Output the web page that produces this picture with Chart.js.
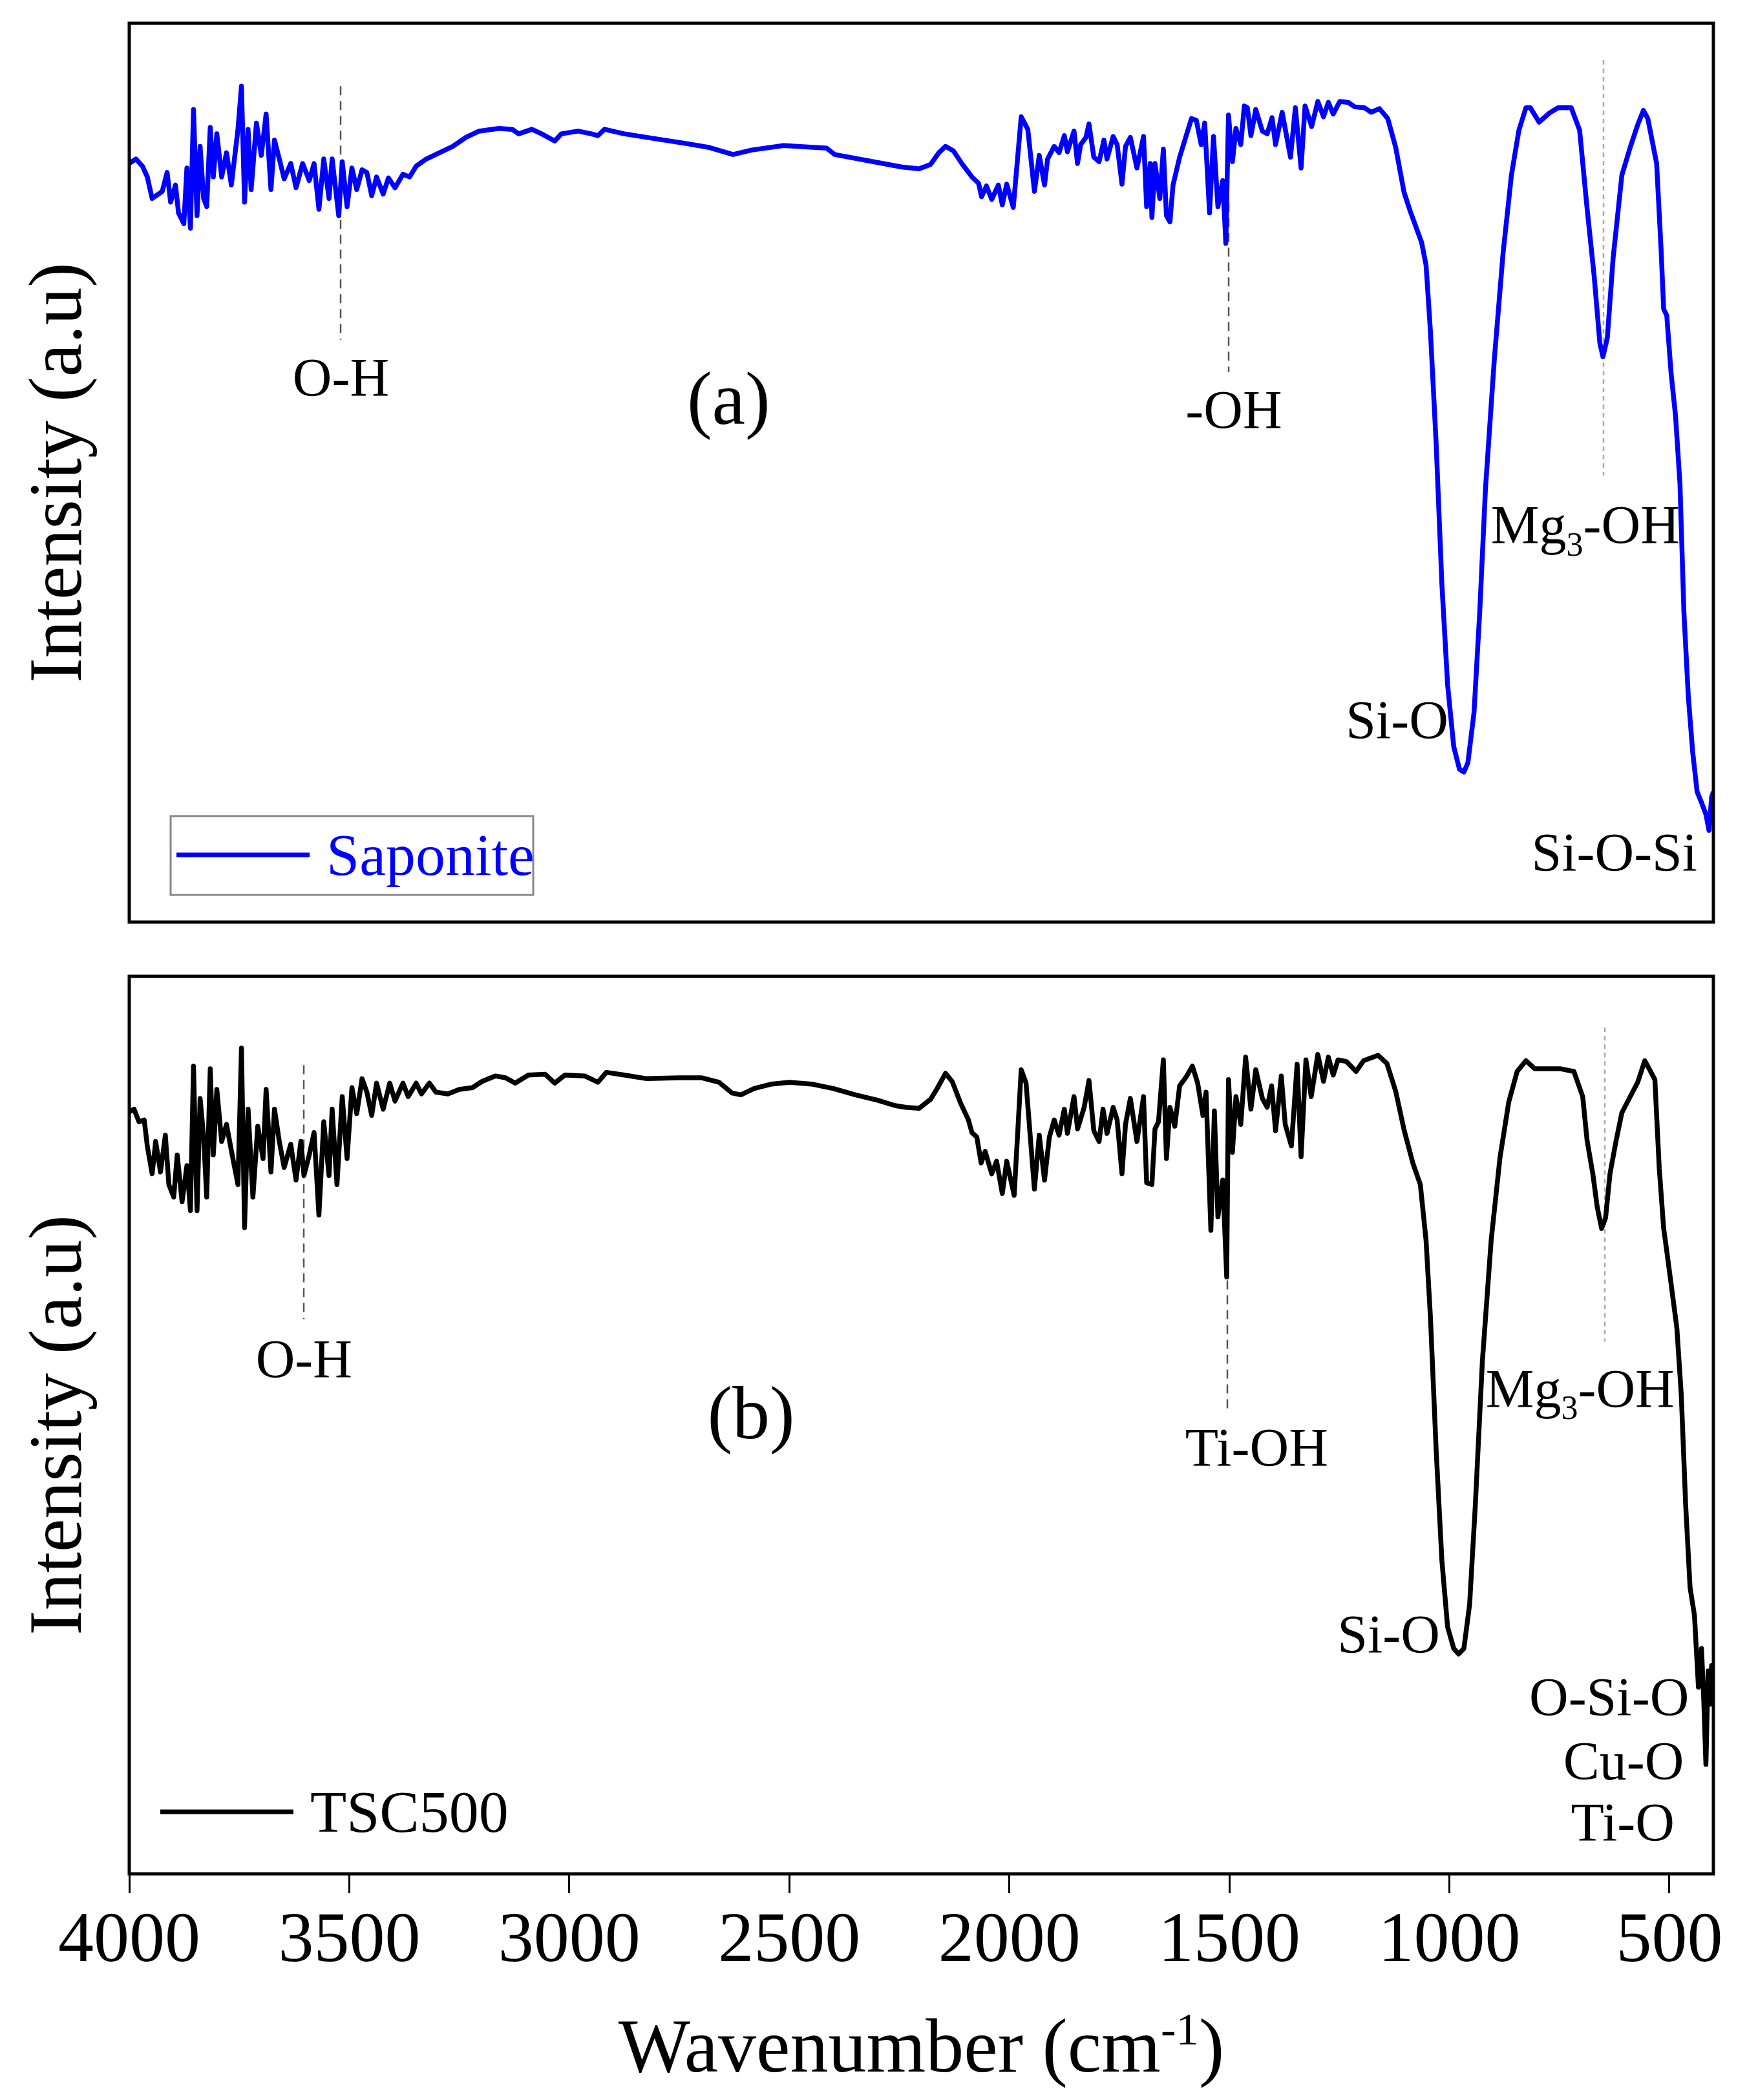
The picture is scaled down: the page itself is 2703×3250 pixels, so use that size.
<!DOCTYPE html>
<html>
<head>
<meta charset="utf-8">
<script src="https://cdn.jsdelivr.net/npm/chart.js@4.4.1/dist/chart.umd.min.js"></script>
<style>
  body { margin: 0; background: #fff; }
  #wrap { position: relative; width: 2703px; height: 3250px; background: #fff; }
  canvas { position: absolute; left: 0; }
  #chartA { top: 0; }
  #chartB { top: 1470px; }
</style>
</head>
<body>
<div id="wrap">
  <canvas id="chartA" width="2703" height="1440"></canvas>
  <canvas id="chartB" width="2703" height="1780"></canvas>
</div>
<script>
const FONT = "'Liberation Serif', 'Times New Roman', serif";

// wavenumber (cm-1) / intensity (a.u.)
const wnSap = [
  4000, 3985, 3970, 3959, 3948, 3925, 3914, 3906, 3895, 3888,
  3876, 3869, 3861, 3854, 3846, 3839, 3831, 3824, 3816, 3809,
  3801, 3790, 3779, 3768, 3753, 3745, 3738, 3730, 3723, 3711,
  3700, 3689, 3678, 3670, 3659, 3648, 3633, 3621, 3606, 3591,
  3580, 3569, 3558, 3546, 3539, 3524, 3516, 3505, 3494, 3483,
  3471, 3460, 3449, 3438, 3423, 3411, 3396, 3378, 3363, 3348,
  3325, 3295, 3265, 3235, 3205, 3160, 3130, 3115, 3085, 3063,
  3033, 3018, 2980, 2950, 2935, 2920, 2875, 2824, 2732, 2684,
  2628, 2585, 2513, 2415, 2397, 2244, 2205, 2179, 2160, 2145,
  2127, 2108, 2085, 2070, 2063, 2052, 2040, 2025, 2016, 2006,
  1991, 1973, 1958, 1943, 1932, 1920, 1913, 1898, 1887, 1875,
  1868, 1853, 1845, 1838, 1826, 1819, 1808, 1796, 1785, 1778,
  1764, 1755, 1744, 1736, 1725, 1710, 1695, 1688, 1680, 1676,
  1669, 1658, 1650, 1643, 1635, 1628, 1613, 1598, 1586, 1575,
  1564, 1556, 1545, 1536, 1526, 1515, 1508, 1502, 1493, 1485,
  1474, 1466, 1459, 1451, 1440, 1425, 1414, 1403, 1395, 1380,
  1361, 1350, 1337, 1328, 1313, 1299, 1286, 1275, 1264, 1249,
  1230, 1215, 1193, 1178, 1159, 1140, 1122, 1103, 1089, 1063,
  1053, 1043, 1030, 1017, 1004, 990, 977, 967, 958, 944,
  931, 918, 898, 878, 859, 842, 826, 816, 796, 773,
  753, 723, 704, 687, 671, 658, 651, 641, 628, 608,
  589, 572, 559, 549, 539, 529, 519, 513, 506, 496,
  486, 476, 467, 457, 447, 437, 427, 417, 410, 404,
  400
];
const intSap = [
  84.4, 84.9, 84.1, 82.9, 80.5, 81.3, 83.4, 80.1, 82.0, 78.9,
  77.7, 83.9, 77.2, 90.4, 78.6, 86.3, 80.5, 79.6, 88.4, 82.9,
  87.7, 82.9, 85.6, 82.0, 88.2, 93.0, 80.1, 88.2, 81.5, 88.9,
  85.3, 89.9, 81.5, 87.0, 84.9, 82.7, 84.4, 81.7, 84.4, 82.5,
  84.4, 79.3, 84.9, 80.5, 84.9, 78.6, 84.6, 79.6, 83.9, 81.5,
  83.7, 83.4, 80.8, 82.9, 81.0, 82.8, 81.7, 83.2, 82.9, 84.1,
  84.9, 85.6, 86.3, 87.3, 88.0, 88.3, 88.2, 87.7, 88.2, 87.7,
  86.9, 87.7, 88.0, 87.7, 87.5, 88.2, 87.7, 87.3, 86.6, 86.2,
  85.4, 85.9, 86.4, 86.1, 85.4, 84.0, 83.8, 84.3, 85.6, 86.3,
  85.8, 84.4, 82.9, 82.2, 80.7, 81.9, 80.4, 82.0, 79.8, 82.1,
  79.5, 89.6, 88.2, 81.3, 85.3, 82.0, 84.9, 86.3, 85.6, 87.5,
  85.7, 88.0, 84.4, 86.5, 87.3, 88.8, 85.1, 84.6, 87.0, 84.9,
  87.4, 86.5, 82.1, 86.3, 87.3, 83.9, 87.4, 79.6, 84.4, 78.4,
  84.4, 80.5, 86.0, 78.6, 77.9, 82.0, 85.1, 87.5, 89.4, 89.2,
  86.5, 88.9, 78.9, 87.4, 79.6, 82.5, 75.5, 89.8, 84.6, 88.3,
  86.5, 90.8, 90.6, 87.5, 90.4, 88.0, 87.7, 89.5, 86.5, 90.1,
  85.1, 90.6, 83.9, 90.8, 88.5, 91.3, 89.6, 91.2, 89.9, 91.3,
  91.2, 90.7, 90.6, 90.1, 90.5, 89.4, 86.2, 81.2, 79.1, 75.6,
  73.1, 65.7, 53.2, 37.6, 26.4, 19.5, 17.0, 16.7, 17.7, 23.3,
  34.5, 48.2, 62.5, 74.4, 83.1, 88.1, 90.6, 90.6, 89.0, 90.0,
  90.6, 90.6, 88.1, 79.4, 71.9, 64.4, 62.9, 65.0, 73.8, 83.1,
  86.2, 88.7, 90.3, 89.4, 86.9, 84.4, 75.0, 68.2, 67.5, 61.0,
  56.3, 48.8, 34.5, 25.1, 18.9, 14.5, 13.3, 12.0, 10.2, 13.9,
  14.5
];

const wnTsc = [
  4000, 3989, 3978, 3966, 3959, 3948, 3940, 3929, 3918, 3910,
  3899, 3891, 3880, 3869, 3861, 3854, 3846, 3839, 3831, 3824,
  3816, 3809, 3801, 3790, 3779, 3768, 3753, 3745, 3738, 3730,
  3719, 3708, 3696, 3689, 3678, 3670, 3659, 3648, 3633, 3621,
  3610, 3603, 3591, 3580, 3569, 3558, 3546, 3539, 3528, 3516,
  3505, 3494, 3483, 3471, 3460, 3449, 3438, 3423, 3408, 3396,
  3378, 3366, 3348, 3336, 3318, 3303, 3276, 3250, 3220, 3198,
  3168, 3145, 3123, 3093, 3055, 3033, 3010, 2965, 2935, 2916,
  2875, 2824, 2750, 2700, 2660, 2630, 2610, 2580, 2540, 2500,
  2450, 2400, 2350, 2300, 2260, 2235, 2205, 2179, 2164, 2145,
  2130, 2111, 2093, 2085, 2074, 2064, 2055, 2040, 2029, 2016,
  2006, 1989, 1973, 1962, 1943, 1932, 1920, 1909, 1898, 1887,
  1875, 1868, 1853, 1845, 1830, 1819, 1808, 1796, 1787, 1778,
  1764, 1755, 1744, 1736, 1725, 1710, 1695, 1688, 1676, 1669,
  1661, 1650, 1643, 1635, 1624, 1613, 1598, 1584, 1572, 1560,
  1553, 1542, 1534, 1526, 1515, 1506, 1502, 1493, 1485, 1474,
  1463, 1451, 1440, 1425, 1414, 1404, 1395, 1382, 1373, 1359,
  1346, 1337, 1326, 1314, 1299, 1286, 1275, 1264, 1253, 1234,
  1212, 1195, 1162, 1142, 1122, 1103, 1083, 1066, 1053, 1043,
  1030, 1017, 1004, 990, 979, 967, 954, 941, 925, 905,
  885, 865, 846, 826, 806, 780, 747, 717, 697, 687,
  674, 664, 654, 645, 635, 621, 608, 589, 572, 562,
  556, 546, 533, 523, 513, 506, 496, 483, 473, 463,
  453, 443, 434, 427, 422, 417, 412, 407, 404, 400
];
const intTsc = [
  84.9, 85.2, 83.8, 84.0, 81.1, 78.0, 81.6, 78.2, 82.3, 76.8,
  75.4, 80.1, 74.9, 78.9, 73.9, 90.0, 73.9, 86.4, 82.1, 75.4,
  89.7, 80.1, 87.4, 81.6, 83.5, 80.6, 76.8, 92.0, 72.0, 85.2,
  75.4, 83.3, 79.7, 87.4, 78.2, 85.2, 81.6, 78.7, 81.3, 77.3,
  81.6, 77.8, 80.1, 82.6, 73.4, 83.8, 77.8, 85.2, 76.8, 86.6,
  79.7, 87.6, 84.7, 88.6, 87.1, 84.5, 88.1, 85.2, 88.1, 86.1,
  88.1, 86.6, 88.1, 86.9, 88.1, 87.1, 86.9, 87.4, 87.6, 88.3,
  88.9, 88.7, 88.1, 89.0, 89.1, 88.1, 89.0, 88.9, 88.2, 89.3,
  89.0, 88.6, 88.7, 88.7, 88.2, 87.0, 86.8, 87.5, 88.0, 88.2,
  88.0, 87.5, 86.8, 86.2, 85.6, 85.4, 85.3, 86.3, 87.5, 89.2,
  88.3, 85.9, 84.0, 82.6, 82.1, 79.2, 80.5, 78.0, 79.4, 75.8,
  79.4, 75.6, 89.6, 88.1, 76.3, 82.3, 77.3, 82.1, 84.0, 82.3,
  85.2, 82.5, 86.6, 83.0, 85.4, 88.4, 82.8, 81.6, 85.2, 82.5,
  85.4, 84.0, 78.0, 83.5, 86.4, 81.6, 86.6, 77.0, 76.8, 83.0,
  83.8, 90.7, 79.7, 85.4, 83.3, 87.8, 88.8, 90.0, 88.1, 84.5,
  87.1, 71.7, 85.0, 73.2, 77.3, 66.5, 88.5, 80.4, 86.6, 83.5,
  91.0, 85.2, 89.6, 86.4, 85.4, 87.8, 82.8, 88.9, 83.5, 81.1,
  90.2, 79.9, 90.7, 86.6, 91.3, 88.3, 91.0, 89.0, 90.7, 90.5,
  89.4, 90.6, 91.2, 90.3, 87.2, 82.9, 79.2, 76.8, 70.6, 62.0,
  47.2, 34.9, 27.5, 25.1, 24.5, 25.1, 30.0, 41.1, 57.1, 70.6,
  79.8, 86.0, 89.4, 90.6, 89.7, 89.7, 89.7, 89.4, 86.6, 81.7,
  78.0, 74.3, 71.9, 73.1, 78.0, 81.7, 84.8, 86.6, 88.2, 89.7,
  90.6, 89.7, 88.5, 78.6, 71.9, 69.4, 65.7, 60.8, 53.4, 41.1,
  31.9, 28.8, 20.8, 25.1, 19.5, 12.2, 22.6, 18.9, 23.2, 20.2
];

const tickVals = [4000, 3500, 3000, 2500, 2000, 1500, 1000, 500];

// band labels and guide lines, in data units (wavenumber, intensity)
const notesA = [
  { text: 'O-H', x: 3519, y: 60.5 },
  { text: '(a)', x: 2638, y: 58.2, size: 116 },
  { text: '-OH', x: 1490, y: 56.9 },
  { text: 'Mg_3-OH', x: 691, y: 44.1 },
  { text: 'Si-O', x: 1119, y: 22.4 },
  { text: 'Si-O-Si', x: 625, y: 7.7 }
];
const guidesA = [
  { x: 3519, y1: 93.0, y2: 64.8, color: '#555', dash: [14, 9] },
  { x: 1501, y1: 80.0, y2: 61.2, color: '#555', dash: [14, 9] },
  { x: 650, y1: 95.9, y2: 49.7, color: '#aaa', dash: [7, 6] }
];
const notesB = [
  { text: 'O-H', x: 3603, y: 57.3 },
  { text: '(b)', x: 2587, y: 51.3, size: 116 },
  { text: 'Ti-OH', x: 1438, y: 47.4 },
  { text: 'Mg_3-OH', x: 703, y: 54.0 },
  { text: 'Si-O', x: 1138, y: 26.6 },
  { text: 'O-Si-O', x: 637, y: 19.6 },
  { text: 'Cu-O', x: 604, y: 12.5 },
  { text: 'Ti-O', x: 606, y: 5.7 }
];
const guidesB = [
  { x: 3603, y1: 90.1, y2: 61.8, color: '#555', dash: [14, 9] },
  { x: 1504, y1: 86.0, y2: 51.3, color: '#555', dash: [14, 9] },
  { x: 647, y1: 94.3, y2: 59.3, color: '#aaa', dash: [7, 6] }
];

// draws text with _n subscripts and ^n superscripts, centred on cx
function richText(ctx, text, cx, cy, size, color) {
  const parts = text.split(/([_^]-?\d+)/).filter(p => p.length);
  const items = parts.map(p => {
    if (p[0] === '_') return { t: p.slice(1), s: size * 0.62, dy: size * 0.22 };
    if (p[0] === '^') return { t: p.slice(1), s: size * 0.6, dy: -size * 0.36 };
    return { t: p, s: size, dy: 0 };
  });
  let w = 0;
  items.forEach(it => { ctx.font = it.s + 'px ' + FONT; it.w = ctx.measureText(it.t).width; w += it.w; });
  let x = cx - w / 2;
  ctx.fillStyle = color || '#000';
  ctx.textAlign = 'left';
  ctx.textBaseline = 'alphabetic';
  items.forEach(it => {
    ctx.font = it.s + 'px ' + FONT;
    ctx.fillText(it.t, x, cy + it.dy);
    x += it.w;
  });
}

const frame = {
  id: 'frame',
  afterDatasetsDraw(chart) {
    const { ctx, chartArea: a } = chart;
    ctx.save();
    ctx.strokeStyle = '#000';
    ctx.lineWidth = 5;
    ctx.strokeRect(a.left, a.top, a.right - a.left, a.bottom - a.top);
    ctx.restore();
  }
};

const bands = {
  id: 'bands',
  beforeDatasetsDraw(chart, args, opts) {
    const { ctx, scales: { x, y } } = chart;
    ctx.save();
    (opts.guides || []).forEach(g => {
      const px = Math.round(x.getPixelForValue(g.x));
      ctx.strokeStyle = g.color;
      ctx.lineWidth = 2.5;
      ctx.setLineDash(g.dash);
      ctx.beginPath();
      ctx.moveTo(px, y.getPixelForValue(g.y1));
      ctx.lineTo(px, y.getPixelForValue(g.y2));
      ctx.stroke();
    });
    ctx.restore();
  },
  afterDatasetsDraw(chart, args, opts) {
    const { ctx, scales: { x, y } } = chart;
    ctx.save();
    (opts.notes || []).forEach(n => {
      const size = n.size || 84;
      // baseline sits about a third of an em under the visual centre
      richText(ctx, n.text, x.getPixelForValue(n.x), y.getPixelForValue(n.y) + size * 0.33, size, '#000');
    });
    ctx.restore();
  }
};

const keyBox = {
  id: 'keyBox',
  afterDraw(chart, args, opts) {
    const { ctx, chartArea: a } = chart;
    const ds = chart.data.datasets[0];
    const ly = a.bottom - opts.dy;
    ctx.save();
    if (opts.box) {
      ctx.strokeStyle = '#888';
      ctx.lineWidth = 3;
      ctx.strokeRect(a.left + opts.box[0], a.bottom - opts.box[1], opts.box[2], opts.box[3]);
    }
    ctx.strokeStyle = ds.borderColor;
    ctx.lineWidth = 7;
    ctx.beginPath();
    ctx.moveTo(a.left + opts.x0, ly);
    ctx.lineTo(a.left + opts.x0 + 206, ly);
    ctx.stroke();
    ctx.fillStyle = ds.borderColor;
    ctx.font = '92px ' + FONT;
    ctx.textAlign = 'left';
    ctx.textBaseline = 'alphabetic';
    ctx.fillText(ds.label, a.left + opts.x0 + 232, ly + 31);
    ctx.restore();
  }
};

const xTitle = {
  id: 'xTitle',
  afterDraw(chart, args, opts) {
    if (!opts.text) return;
    const { ctx, chartArea: a } = chart;
    ctx.save();
    richText(ctx, opts.text, (a.left + a.right) / 2, a.bottom + 306, 118, '#000');
    ctx.restore();
  }
};

function panel(id, label, wn, vals, color, showX, notes, guides, key) {
  return new Chart(document.getElementById(id), {
    type: 'line',
    data: {
      datasets: [{
        label: label,
        data: wn.map((w, i) => ({ x: w, y: vals[i] })),
        borderColor: color,
        borderWidth: 7.5,
        borderJoinStyle: 'round',
        pointRadius: 0,
        tension: 0,
        fill: false
      }]
    },
    options: {
      responsive: false,
      devicePixelRatio: 1,
      animation: false,
      layout: { padding: showX ? { top: 41, right: 52, bottom: 0, left: 0 } : { top: 36, right: 52, bottom: 13, left: 0 } },
      plugins: {
        legend: { display: false },
        tooltip: { enabled: false },
        bands: { notes: notes, guides: guides },
        keyBox: key,
        xTitle: { text: showX ? 'Wavenumber (cm^-1)' : '' }
      },
      scales: {
        x: {
          type: 'linear',
          reverse: true,
          min: 400,
          max: 4000,
          display: showX,
          afterBuildTicks: s => { s.ticks = tickVals.map(v => ({ value: v })); },
          afterFit: s => { s.height = showX ? 350 : 0; },
          border: { display: false },
          grid: { display: true, drawOnChartArea: false, drawTicks: true, tickLength: 30, lineWidth: 3, color: '#000' },
          ticks: {
            autoSkip: false,
            maxRotation: 0,
            padding: 10,
            color: '#000',
            font: { family: FONT, size: 110 },
            callback: v => String(v)
          },
          title: { display: false }
        },
        y: {
          min: 0,
          max: 100,
          afterFit: s => { s.width = 200; },
          border: { display: false },
          grid: { display: false },
          ticks: { display: false },
          title: {
            display: true,
            text: 'Intensity (a.u)',
            color: '#000',
            font: { family: FONT, size: 116 },
            padding: { top: 25, bottom: 0 }
          }
        }
      }
    },
    plugins: [bands, frame, keyBox, xTitle]
  });
}

panel('chartA', 'Saponite', wnSap, intSap, '#0000ff', false, notesA, guidesA,
  { box: [64, 164, 561, 122], x0: 73, dy: 104 });
panel('chartB', 'TSC500', wnTsc, intTsc, '#000000', true, notesB, guidesB,
  { box: null, x0: 48, dy: 96 });
</script>
</body>
</html>
